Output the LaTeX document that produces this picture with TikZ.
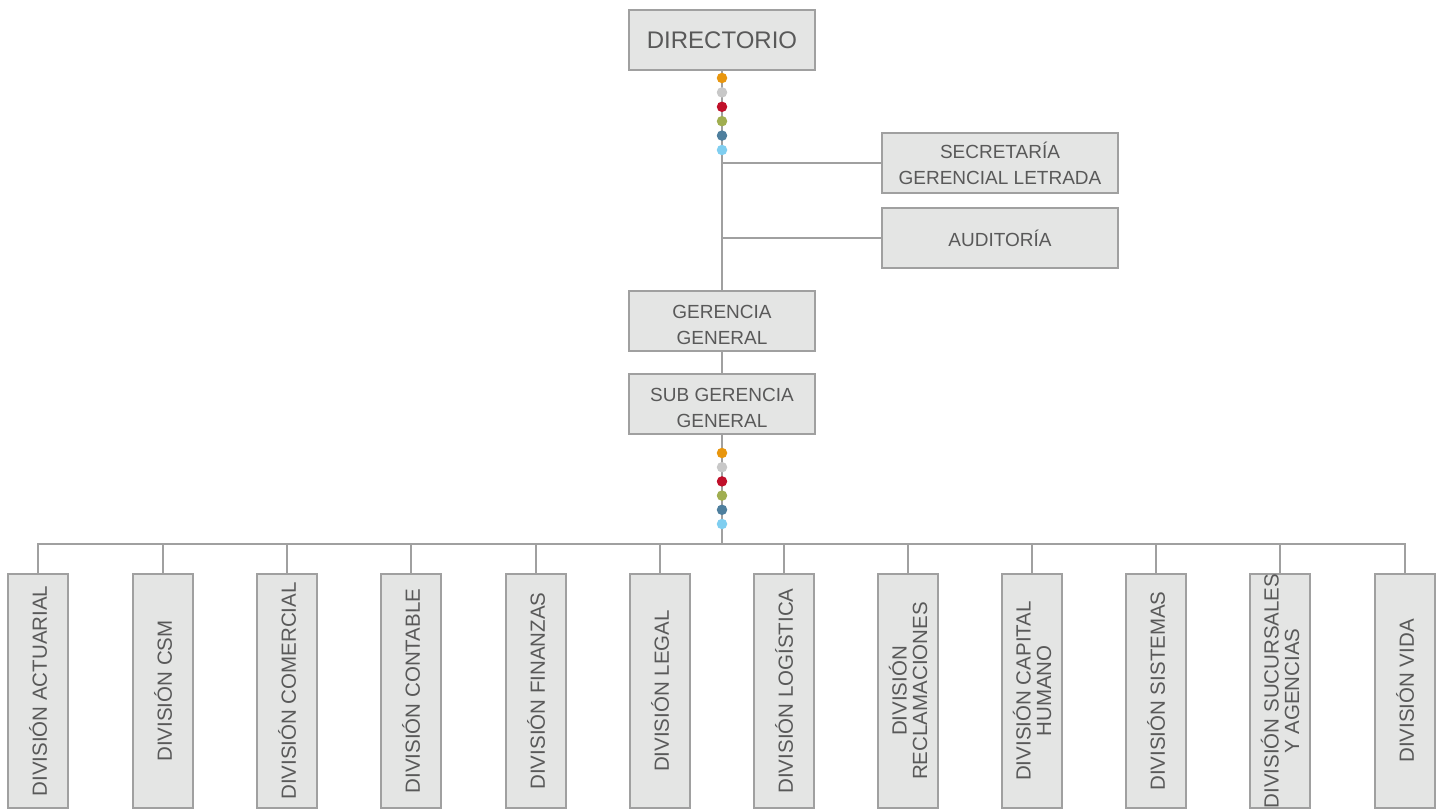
\documentclass[tikz,border=0pt]{standalone}
\usepackage{fontspec}
\setmainfont{Liberation Sans}
\definecolor{linegray}{HTML}{A0A0A0}
\definecolor{boxfill}{HTML}{E4E5E4}
\definecolor{txt}{HTML}{595959}
\definecolor{dA}{HTML}{E8960E}
\definecolor{dB}{HTML}{C8C8C8}
\definecolor{dC}{HTML}{C0102A}
\definecolor{dD}{HTML}{A0AE50}
\definecolor{dE}{HTML}{4E7F9E}
\definecolor{dF}{HTML}{7FCEF0}
\begin{document}
\begin{tikzpicture}[x=1pt,y=-1pt,
  conn/.style={draw=linegray,line width=2.4pt},
  orgbox/.style={draw=linegray,line width=2.4pt,fill=boxfill,text=txt,inner sep=0pt,align=center,font=\fontsize{19}{26}\selectfont},
  topbox/.style={orgbox,minimum width=186pt,minimum height=60pt},
  sidebox/.style={orgbox,minimum width=236pt,minimum height=60pt},
  divbox/.style={orgbox,minimum width=60pt,minimum height=234pt},
  divtext/.style={rotate=90,text=txt,align=center,inner sep=0pt,font=\fontsize{20.5}{20.5}\selectfont},
  boxtext/.style={text=txt,align=center,inner sep=0pt,font=\fontsize{19}{26}\selectfont},
  dotnode/.style={circle,inner sep=0pt,minimum size=10.5pt,draw=none}
]
\useasboundingbox (0,0) rectangle (1441,810);
\fill[white] (0,0) rectangle (1441,810);

\node[topbox,font=\fontsize{24}{28}\selectfont] (dir) at (722,40) {DIRECTORIO};
\node[sidebox] (sec) at (1000,163) {SECRETARÍA\\GERENCIAL LETRADA};
\node[sidebox] (aud) at (1000,238) {AUDITORÍA};
\node[topbox] (ger) at (722,321) {};
\node[boxtext] (gert) at (722,325) {GERENCIA\\GENERAL};
\node[topbox] (sub) at (722,404) {};
\node[boxtext] (subt) at (722,408) {SUB GERENCIA\\GENERAL};

\coordinate (bus) at (722,544);

% connectors
\draw[conn] (dir.south) -- (ger.north);
\draw[conn] (sec.west) -- (sec.west -| dir.south);
\draw[conn] (aud.west) -- (aud.west -| dir.south);
\draw[conn] (ger.south) -- (sub.north);
\draw[conn] (sub.south) -- (bus);

% divisions
\foreach \i/\x/\t in {1/38/{DIVISIÓN ACTUARIAL},2/163/{DIVISIÓN CSM},3/287/{DIVISIÓN COMERCIAL},4/411/{DIVISIÓN CONTABLE},5/536/{DIVISIÓN FINANZAS},6/660/{DIVISIÓN LEGAL},7/784/{DIVISIÓN LOGÍSTICA},8/908/{DIVISIÓN\\RECLAMACIONES},9/1032/{DIVISIÓN CAPITAL\\HUMANO},10/1156/{DIVISIÓN SISTEMAS},11/1280/{DIVISIÓN SUCURSALES\\Y AGENCIAS},12/1405/{DIVISIÓN VIDA}}{
  \node[divbox] (d\i) at (\x,691) {};
  \node[divtext] (t\i) at (d\i.center) {\t};
  \draw[conn] (d\i.north) -- (d\i.north |- bus);
}
\draw[conn,line cap=rect] (d1.north |- bus) -- (d12.north |- bus);

% dots
\foreach \c [count=\k] in {dA,dB,dC,dD,dE,dF}{
  \node[dotnode,fill=\c] (ta\k) at (722,{78+14.4*(\k-1)}) {};
  \node[dotnode,fill=\c] (tb\k) at (722,{453+14.2*(\k-1)}) {};
}
\end{tikzpicture}
\end{document}
